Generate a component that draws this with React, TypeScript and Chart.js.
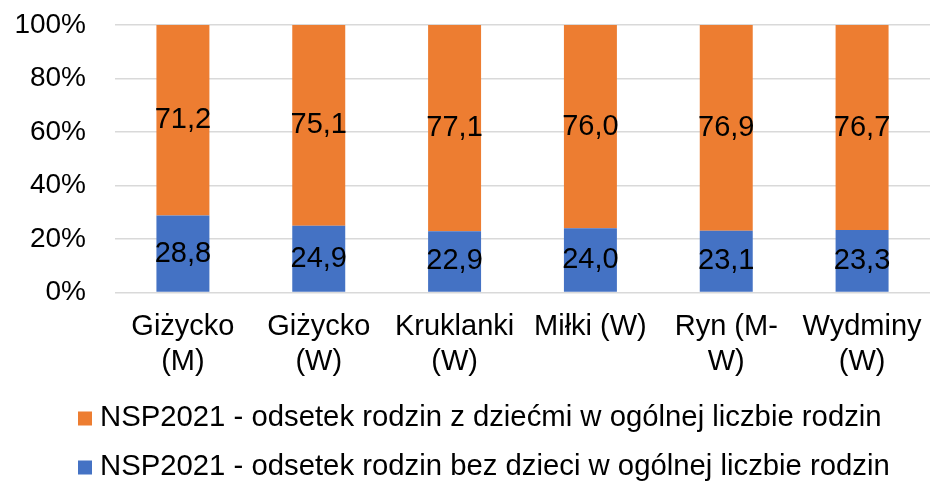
import React, { useEffect, useRef } from "react";
import { Chart, registerables } from "chart.js";

Chart.register(...registerables);

const categories: (string | string[])[] = [
  ["Giżycko", "(M)"],
  ["Giżycko", "(W)"],
  ["Kruklanki", "(W)"],
  "Miłki (W)",
  ["Ryn (M-", "W)"],
  ["Wydminy", "(W)"],
];
const withoutChildren = [28.8, 24.9, 22.9, 24.0, 23.1, 23.3];
const withChildren = [71.2, 75.1, 77.1, 76.0, 76.9, 76.7];
const labelWithout = "NSP2021 - odsetek rodzin bez dzieci w ogólnej liczbie rodzin";
const labelWith = "NSP2021 - odsetek rodzin z dziećmi w ogólnej liczbie rodzin";
const yTicks = [0, 20, 40, 60, 80, 100];

const FONT = "'Liberation Sans', Arial, sans-serif";
const FS = 29;
const BLUE = "#4472C4";
const ORANGE = "#ED7D31";

const dataLabelPlugin = {
  id: "dataLabels",
  afterDatasetsDraw(chart: any) {
    const ctx = chart.ctx;
    ctx.save();
    ctx.font = `${FS}px ${FONT}`;
    ctx.fillStyle = "#000";
    ctx.textAlign = "center";
    ctx.textBaseline = "middle";
    chart.data.datasets.forEach((ds: any, di: number) => {
      const meta = chart.getDatasetMeta(di);
      meta.data.forEach((el: any, i: number) => {
        const v = ds.data[i] as number;
        const y = (el.y + el.base) / 2;
        ctx.fillText(v.toFixed(1).replace(".", ","), el.x, y);
      });
    });
    ctx.restore();
  },
};

const legendPlugin = {
  id: "customLegend",
  afterDraw(chart: any) {
    const ctx = chart.ctx;
    ctx.save();
    ctx.font = `29.3px ${FONT}`;
    ctx.textAlign = "left";
    ctx.textBaseline = "middle";
    const items = [...chart.data.datasets].reverse();
    const boxX = 78;
    const rowYs = [chart.height - 63, chart.height - 14];
    items.forEach((ds: any, i: number) => {
      const y = rowYs[i];
      ctx.fillStyle = ds.backgroundColor;
      ctx.fillRect(boxX, y - 6.5, 14, 14);
      ctx.fillStyle = "#000";
      ctx.fillText(ds.label, boxX + 22, y);
    });
    ctx.restore();
  },
};

export default function App() {
  const ref = useRef<HTMLCanvasElement>(null);
  useEffect(() => {
    if (!ref.current) return;
    const chart = new Chart(ref.current, {
      type: "bar",
      data: {
        labels: categories,
        datasets: [
          {
            label: labelWithout,
            data: withoutChildren,
            backgroundColor: BLUE,
            categoryPercentage: 1,
            barPercentage: 0.39,
          },
          {
            label: labelWith,
            data: withChildren,
            backgroundColor: ORANGE,
            categoryPercentage: 1,
            barPercentage: 0.39,
          },
        ],
      },
      options: {
        responsive: false,
        animation: false,
        layout: { padding: { left: 14, right: 0, top: 25, bottom: 85 } },
        plugins: {
          legend: { display: false },
          tooltip: { enabled: false },
        },
        scales: {
          x: {
            stacked: true,
            grid: { display: false, drawTicks: false },
            border: { display: false },
            ticks: {
              color: "#000",
              font: { family: FONT, size: FS, lineHeight: 1.2 },
              padding: 17,
              maxRotation: 0,
              autoSkip: false,
            },
            afterFit: (scale: any) => {
              scale.paddingLeft = 0;
              scale.paddingRight = 0;
            },
          },
          y: {
            stacked: true,
            min: 0,
            max: 100,
            afterBuildTicks: (scale: any) => {
              scale.ticks = yTicks.map((v) => ({ value: v }));
            },
            grid: { color: "#D9D9D9", lineWidth: 1.5, drawTicks: false },
            border: { display: false },
            ticks: {
              color: "#000",
              font: { family: FONT, size: 28 },
              padding: 29,
              callback: (v: any) => `${v}%`,
            },
            afterFit: (scale: any) => {
              scale.width = 101;
              scale.paddingTop = 0;
              scale.paddingBottom = 0;
            },
          },
        },
      },
      plugins: [dataLabelPlugin, legendPlugin],
    });
    return () => chart.destroy();
  }, []);
  return (
    <div style={{ position: "absolute", left: 0, top: 0, width: 930, height: 481, background: "#fff" }}>
      <canvas ref={ref} width={930} height={481} style={{ display: "block" }} />
    </div>
  );
}
